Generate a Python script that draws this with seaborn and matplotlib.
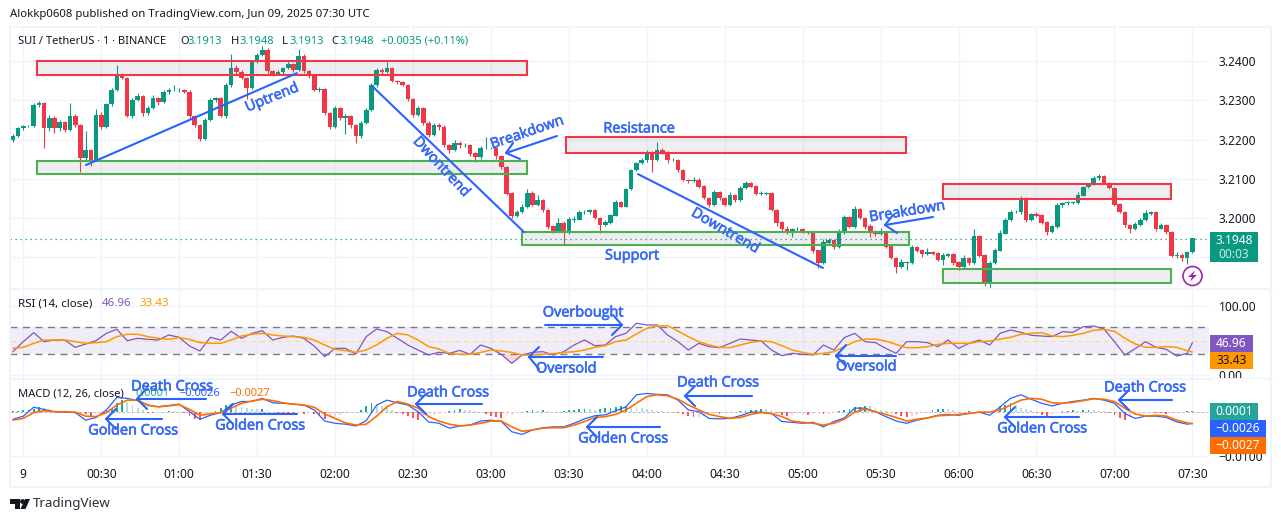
import numpy as np
import seaborn as sns
from matplotlib import patheffects, pyplot as plt
from matplotlib.patches import Circle, Polygon, Rectangle

W, H = 1281, 522
GREEN = '#089981'
RED = '#F23645'
BLUE = '#2962FF'
ORANGE = '#FF6D00'
PURPLE = '#7E57C2'
AMBER = '#FF9800'
INK = '#131722'
GRID = '#F0F3FA'

# 2 minute candles
closes = [
    3.2209, 3.2229, 3.2234, 3.2234, 3.2288, 3.2293, 3.2229, 3.2255, 3.2229, 3.2244,
    3.2224, 3.2260, 3.2237, 3.2153, 3.2173, 3.2148, 3.2262, 3.2232, 3.2290, 3.2326,
    3.2364, 3.2357, 3.2260, 3.2301, 3.2311, 3.2267, 3.2280, 3.2306, 3.2295, 3.2321,
    3.2326, 3.2326, 3.2326, 3.2321, 3.2260, 3.2237, 3.2201, 3.2250, 3.2301, 3.2306,
    3.2260, 3.2339, 3.2382, 3.2372, 3.2357, 3.2331, 3.2397, 3.2415, 3.2428, 3.2374,
    3.2367, 3.2372, 3.2382, 3.2392, 3.2377, 3.2413, 3.2374, 3.2362, 3.2326, 3.2329,
    3.2267, 3.2232, 3.2280, 3.2255, 3.2260, 3.2237, 3.2209, 3.2242, 3.2275, 3.2339,
    3.2377, 3.2372, 3.2382, 3.2349, 3.2346, 3.2339, 3.2303, 3.2262, 3.2280, 3.2242,
    3.2211, 3.2237, 3.2232, 3.2186, 3.2173, 3.2191, 3.2186, 3.2186, 3.2165, 3.2155,
    3.2178, 3.2178, 3.2178, 3.2158, 3.2130, 3.2063, 3.2007, 3.2015, 3.2028, 3.2063,
    3.2033, 3.2046, 3.2020, 3.1979, 3.1969, 3.1987, 3.1964, 3.1997, 3.1997, 3.2015,
    3.2015, 3.2020, 3.2000, 3.1984, 3.1989, 3.2007, 3.2040, 3.2030, 3.2074, 3.2122,
    3.2140, 3.2148, 3.2168, 3.2148, 3.2173, 3.2168, 3.2148, 3.2148, 3.2122, 3.2097,
    3.2094, 3.2097, 3.2081, 3.2051, 3.2033, 3.2066, 3.2051, 3.2035, 3.2058, 3.2046,
    3.2076, 3.2089, 3.2081, 3.2063, 3.2063, 3.2063, 3.2020, 3.1989, 3.1972, 3.1964,
    3.1972, 3.1972, 3.1964, 3.1964, 3.1918, 3.1887, 3.1938, 3.1944, 3.1928, 3.1964,
    3.2002, 3.1979, 3.2023, 3.2000, 3.1979, 3.1964, 3.1959, 3.1964, 3.1928, 3.1898,
    3.1877, 3.1887, 3.1887, 3.1926, 3.1918, 3.1910, 3.1913, 3.1910, 3.1893, 3.1905,
    3.1908, 3.1887, 3.1877, 3.1898, 3.1887, 3.1954, 3.1905, 3.1834, 3.1885, 3.1918,
    3.1961, 3.1995, 3.2015, 3.2015, 3.2051, 3.1995, 3.2010, 3.2007, 3.1989, 3.1966,
    3.1979, 3.2033, 3.2038, 3.2040, 3.2040, 3.2058, 3.2079, 3.2086, 3.2102, 3.2107,
    3.2089, 3.2076, 3.2035, 3.2015, 3.1982, 3.1974, 3.1984, 3.1995, 3.2012, 3.2015,
    3.1974, 3.1982, 3.1964, 3.1905, 3.1905, 3.1898, 3.1913, 3.1948,
]

# wick lengths in 0.0001 steps
upper_wicks = [
    4, 3, 2, 2, 6, 5, 3, 8, 4, 6,
    3, 33, 5, 3, 50, 4, 15, 8, 4, 6,
    25, 6, 3, 5, 8, 3, 5, 8, 3, 6,
    5, 12, 6, 3, 4, 2, 3, 6, 5, 3,
    3, 5, 35, 8, 4, 3, 5, 6, 10, 4,
    4, 5, 3, 8, 4, 18, 5, 3, 3, 4,
    3, 3, 5, 4, 6, 3, 2, 4, 6, 5,
    6, 4, 15, 3, 3, 4, 3, 3, 6, 3,
    4, 6, 5, 4, 3, 8, 5, 6, 3, 4,
    6, 28, 4, 3, 3, 2, 3, 6, 8, 10,
    5, 14, 3, 4, 3, 12, 5, 6, 8, 5,
    6, 4, 3, 3, 5, 4, 5, 3, 3, 4,
    4, 5, 6, 3, 20, 6, 3, 4, 3, 3,
    2, 8, 4, 3, 3, 6, 4, 3, 8, 4,
    5, 6, 3, 3, 5, 4, 3, 2, 3, 8,
    4, 5, 3, 4, 3, 2, 8, 6, 4, 8,
    6, 4, 8, 3, 4, 6, 5, 12, 3, 3,
    3, 8, 4, 6, 3, 4, 12, 4, 3, 5,
    4, 3, 4, 8, 3, 18, 4, 3, 5, 6,
    8, 4, 5, 6, 6, 3, 4, 5, 3, 3,
    4, 6, 4, 3, 3, 8, 3, 4, 6, 6,
    3, 4, 3, 3, 2, 3, 5, 4, 8, 3,
    3, 5, 3, 3, 8, 6, 4, 2,
]
lower_wicks = [
    6, 3, 5, 2, 3, 4, 50, 6, 12, 8,
    5, 3, 4, 35, 6, 15, 3, 6, 3, 4,
    3, 4, 3, 5, 3, 6, 4, 3, 8, 3,
    4, 3, 5, 3, 5, 4, 4, 3, 3, 6,
    3, 5, 4, 6, 3, 28, 3, 2, 3, 5,
    4, 3, 8, 3, 4, 3, 4, 5, 3, 4,
    5, 4, 3, 6, 40, 8, 18, 4, 3, 2,
    4, 5, 3, 3, 4, 3, 4, 5, 3, 6,
    5, 3, 8, 4, 6, 3, 8, 4, 8, 12,
    4, 3, 3, 8, 4, 3, 6, 4, 3, 2,
    3, 3, 5, 6, 8, 5, 32, 4, 6, 3,
    5, 4, 3, 22, 5, 3, 2, 3, 2, 3,
    3, 2, 4, 30, 3, 5, 8, 3, 4, 3,
    5, 3, 4, 3, 5, 3, 6, 4, 3, 5,
    3, 2, 3, 4, 3, 5, 3, 8, 6, 4,
    12, 5, 3, 4, 8, 13, 3, 3, 6, 3,
    4, 3, 5, 3, 6, 12, 4, 3, 5, 3,
    18, 4, 20, 3, 4, 8, 4, 4, 3, 12,
    5, 6, 8, 3, 6, 3, 5, 8, 15, 3,
    3, 2, 3, 3, 4, 5, 3, 4, 3, 8,
    3, 3, 4, 5, 3, 3, 2, 3, 3, 4,
    3, 3, 4, 3, 5, 12, 4, 3, 3, 3,
    6, 3, 5, 4, 6, 8, 14, 2,
]

# macd histogram in 0.0001 steps, same 2 minute grid as the candles
macd_hist = [
    1, 2, 3, 4, 6, 11, 9, 5, 3, 1,
    0, 0, -1, -3, -6, -10, -6, -2, 4, 9,
    20, 27, 22, 15, 8, 3, -2, -4, -3, -1,
    2, 1, -1, -3, -9, -16, -18, -12, -5, 2,
    8, 14, 18, 15, 10, 8, 7, 5, 6, 3,
    -1, -2, -3, -4, -4, -3, -5, -4, -5, -8,
    -16, -12, -9, -7, -5, -3, -1, 4, 12, 20,
    17, 12, 8, 3, -3, -6, -10, -14, -18, -12,
    -11, -8, -5, -2, 2, 4, 5, 4, 3, 1,
    -1, -5, -9, -12, -14, -10, -7, -3, -1, 2,
    3, 2, 4, 2, -1, 0, 2, 3, 4, 5,
    6, 5, 4, 7, 8, 9, 10, 12, 12, 11,
    10, 8, 6, 3, 2, 1, 0, -1, -3, -6,
    -9, -13, -11, -10, -7, -5, -6, -4, -3, -1,
    1, 2, 3, 4, 6, 5, 3, -3, -8, -10,
    -8, -6, -5, -7, -5, -4, -6, -5, -3, 1,
    4, 7, 10, 11, 13, 12, 8, 3, 1, 0,
    -5, -9, -11, -10, -8, -4, -1, 3, 5, 6,
    5, 3, 1, 0, 1, -1, -3, -5, -2, 2,
    10, 16, 20, 15, 9, 6, 3, -2, -7, -9,
    -6, -2, 1, 2, 3, 2, 3, 4, 3, 2,
    1, -3, -8, -14, -18, -12, -7, -3, -2, -1,
    -2, -4, -6, -5, -3, -1, 1, 1,
]

# indicators on a 4 minute grid
rsi_values = [
    33.8, 48.3, 61.4, 48.3, 50.7, 50.7, 40.1, 44.9, 49.8, 60.4,
    66.2, 49.8, 53.1, 51.7, 50.7, 58.0, 54.6, 42.0, 34.8, 54.6,
    50.7, 63.3, 53.1, 60.4, 64.2, 50.7, 54.6, 56.5, 53.1, 42.0,
    26.6, 38.6, 38.6, 30.4, 55.6, 66.7, 62.8, 53.1, 43.5, 36.2,
    29.0, 32.9, 31.4, 35.7, 29.9, 43.5, 38.6, 29.9, 16.9, 29.0,
    32.9, 33.8, 29.0, 33.8, 43.5, 50.7, 42.5, 43.5, 55.6, 60.4,
    74.9, 72.5, 72.5, 58.0, 48.3, 36.2, 45.9, 41.1, 39.6, 45.9,
    52.2, 50.7, 49.3, 36.2, 28.0, 31.4, 29.9, 29.0, 43.5, 36.2,
    54.1, 60.4, 48.3, 46.9, 38.6, 31.4, 48.3, 48.3, 46.9, 41.1,
    50.7, 38.6, 45.9, 50.7, 43.5, 60.4, 65.2, 61.8, 57.5, 56.5,
    55.6, 62.8, 61.8, 70.0, 71.0, 66.7, 48.3, 29.0, 38.2, 48.3,
    40.1, 37.2, 27.5, 31.4, 46.96,
]
rsi_ma = [
    38.7, 40.1, 45.9, 50.7, 50.7, 50.7, 48.3, 45.9, 46.9, 48.3,
    55.6, 59.0, 59.0, 55.6, 53.2, 51.7, 54.1, 51.7, 46.9, 45.9,
    45.9, 50.7, 56.5, 59.0, 60.4, 58.0, 56.5, 55.6, 54.6, 50.7,
    43.5, 37.2, 35.3, 32.9, 36.3, 43.5, 53.2, 60.4, 58.0, 50.7,
    41.1, 37.7, 31.4, 29.9, 29.9, 32.8, 36.2, 34.8, 32.8, 29.0,
    29.0, 29.9, 30.9, 32.8, 33.8, 36.2, 40.1, 42.5, 48.3, 50.7,
    59.4, 67.6, 71.0, 71.5, 63.7, 55.5, 48.3, 43.5, 40.1, 39.6,
    43.5, 47.3, 49.2, 48.3, 42.5, 36.2, 32.8, 29.9, 31.4, 33.8,
    41.0, 48.3, 52.1, 52.1, 49.2, 44.4, 39.6, 39.6, 41.0, 44.4,
    45.9, 45.9, 45.9, 48.3, 49.2, 52.1, 54.6, 58.9, 60.4, 61.4,
    56.5, 55.6, 57.5, 60.4, 64.8, 66.2, 63.3, 53.2, 45.0, 40.1,
    40.1, 41.1, 40.1, 35.3, 33.43,
]
# in 0.0001 steps
macd_line = [
    -17, -10, 10, 5, 0, -1, -2, -19, -13, 4,
    32, 30, 25, 15, 11, 14, 17, 0, -17, -8,
    -2, 15, 23, 23, 30, 20, 19, 17, 15, 4,
    -21, -26, -28, -32, -20, 15, 26, 20, 15, 0,
    -23, -26, -37, -32, -30, -21, -19, -22, -45, -51,
    -41, -36, -34, -34, -26, -16, -9, -7, 2, 11,
    38, 41, 39, 38, 26, 4, 0, -15, -16, -15,
    -9, -1, -1, -4, -22, -24, -26, -24, -34, -22,
    -14, 8, 8, 0, -11, -21, -26, -19, -14, -8,
    -6, -8, -4, -1, -8, 11, 30, 38, 28, 19,
    13, 19, 23, 26, 30, 26, 19, -4, -15, -10,
    -10, -13, -23, -28, -26,
]
macd_signal = [
    -19, -15, -2, 2, 0, 0, -1, -10, -11, -2,
    15, 26, 26, 14, 11, 13, 16, 5, -8, -5,
    -2, 8, 19, 24, 28, 25, 20, 17, 15, 10,
    -5, -15, -25, -30, -28, -10, 11, 23, 17, 8,
    -11, -21, -28, -32, -30, -26, -21, -21, -34, -44,
    -41, -37, -36, -36, -30, -22, -13, -11, -6, 4,
    19, 34, 38, 36, 28, 15, 4, -6, -11, -15,
    -13, -6, -2, -4, -11, -21, -24, -26, -30, -26,
    -17, -1, 6, 0, -6, -13, -21, -17, -14, -9,
    -8, -6, -4, -1, -1, 4, 15, 26, 30, 28,
    20, 19, 21, 25, 29, 28, 23, 8, -5, -10,
    -8, -10, -19, -25, -27,
]

time_labels = ['9', '00:30', '01:00', '01:30', '02:00', '02:30', '03:00', '03:30', '04:00', '04:30',
               '05:00', '05:30', '06:00', '06:30', '07:00', '07:30']
price_ticks = [3.24, 3.23, 3.22, 3.21, 3.20, 3.19]
price_labels = ['3.2400', '3.2300', '3.2200', '3.2100', '3.2000']

# zones: start minute, end minute, top price, bottom price
red_zones = [(5.3, 193.9, 3.2400, 3.2364), (208.9, 339.8, 3.2206, 3.2165), (354.0, 441.8, 3.2086, 3.2048)]
green_zones = [(5.3, 193.9, 3.2145, 3.2112), (192.0, 340.9, 3.1964, 3.1931), (354.0, 441.8, 3.1870, 3.1834)]
trend_minutes = [(24.1, 105.3), (134.6, 192.8), (236.6, 307.8)]
trend_prices = [(3.2135, 3.2369), (3.2334, 3.1964), (3.2112, 3.1873)]


def px_rect(left, top, right, bottom):
    return [left / W, 1 - bottom / H, (right - left) / W, (bottom - top) / H]


def hist_colour(values):
    out = []
    prev = 0
    for v in values:
        if v >= 0:
            out.append('#26A69A' if v >= prev else '#B2DFDB')
        else:
            out.append('#FF5252' if v <= prev else '#FFCDD2')
        prev = v
    return out


sns.set_style('white')
plt.rcParams['font.family'] = ['Noto Sans', 'DejaVu Sans']
plt.rcParams['axes.unicode_minus'] = True

fig = plt.figure(figsize=(W / 100, H / 100), dpi=100)
ax_price = fig.add_axes(px_rect(10, 28, 1209, 288))
ax_rsi = fig.add_axes(px_rect(10, 289, 1209, 378))
ax_macd = fig.add_axes(px_rect(10, 379, 1209, 458))

xlim = (-5.12, 456.4)
tick_minutes = np.arange(0, 451, 30)
for ax in (ax_price, ax_rsi, ax_macd):
    ax.set_xlim(xlim)
    ax.set_xticks(tick_minutes)
    ax.grid(True, color=GRID, lw=1.0)
    ax.set_axisbelow(True)
    for s in ax.spines.values():
        s.set_visible(False)
    ax.yaxis.tick_right()
    ax.tick_params(length=0, labelsize=8.6, labelcolor=INK, pad=7)
    ax.tick_params(axis='x', labelbottom=False)

# candles
minutes = -4 + 2 * np.arange(len(closes))
closes_arr = np.array(closes)
opens = np.r_[3.2200, closes_arr[:-1]]
highs = np.maximum(opens, closes_arr) + np.array(upper_wicks) * 0.0001
lows = np.minimum(opens, closes_arr) - np.array(lower_wicks) * 0.0001
colours = [GREEN if c >= o else RED for o, c in zip(opens, closes_arr)]
ax_price.vlines(minutes, lows, highs, colors=colours, lw=0.8, zorder=2)
ax_price.bar(minutes, np.abs(closes_arr - opens) + 0.00012, bottom=np.minimum(opens, closes_arr) - 0.00006,
             width=1.75, color=colours, lw=0, zorder=2.5)
ax_price.axhline(closes[-1], color=GREEN, lw=0.9, ls=(0, (1, 3)), zorder=1.5)

for zones, edge in ((red_zones, RED), (green_zones, '#4CAF50')):
    for start, end, top, bottom in zones:
        ax_price.add_patch(Rectangle((start, bottom), end - start, top - bottom, facecolor='#787B86', alpha=0.12,
                                     lw=0, zorder=3))
        ax_price.add_patch(Rectangle((start, bottom), end - start, top - bottom, fill=False, edgecolor=edge,
                                     lw=1.5, zorder=3.2))
for mins, prices in zip(trend_minutes, trend_prices):
    sns.lineplot(x=list(mins), y=list(prices), ax=ax_price, color=BLUE, lw=1.5, estimator=None, zorder=4)

ax_price.set_ylim(3.1822, 3.2484)
ax_price.set_yticks(price_ticks)
ax_price.set_yticklabels(price_labels + [''])
ax_price.set_ylabel('')

# rsi
ind_minutes = np.append(np.arange(-4, 449, 4), 450)
rsi_arr = np.array(rsi_values)
ax_rsi.axhspan(30, 70, color=PURPLE, alpha=0.1, lw=0, zorder=1)
ax_rsi.axhline(70, color='#787B86', lw=1.0, ls=(0, (5, 4)), zorder=1.5)
ax_rsi.axhline(30, color='#787B86', lw=1.0, ls=(0, (5, 4)), zorder=1.5)
ax_rsi.axhline(50, color='#F5DF8C', lw=0.8, ls=(0, (5, 3)), zorder=1.5)
ax_rsi.fill_between(ind_minutes, rsi_arr, 30, where=rsi_arr < 30, interpolate=True, color=RED, alpha=0.2, lw=0)
sns.lineplot(x=ind_minutes, y=rsi_values, ax=ax_rsi, color=PURPLE, lw=0.9, estimator=None, zorder=3)
sns.lineplot(x=ind_minutes, y=rsi_ma, ax=ax_rsi, color=AMBER, lw=1.1, estimator=None, zorder=3.5)
ax_rsi.set_ylim(-4.3, 124.6)
ax_rsi.set_yticks([100, 0])
ax_rsi.set_yticklabels(['100.00', '0.00'])
ax_rsi.set_ylabel('')

# macd
hist = np.array(macd_hist) * 0.0001
ax_macd.axhline(0, color='#B8BAC2', lw=0.7, ls=(0, (3, 2)), zorder=1)
ax_macd.bar(minutes, hist, width=0.7, color=hist_colour(macd_hist), lw=0, zorder=2)
sns.lineplot(x=ind_minutes, y=np.array(macd_line) * 0.0001, ax=ax_macd, color=BLUE, lw=0.9, estimator=None, zorder=3)
sns.lineplot(x=ind_minutes, y=np.array(macd_signal) * 0.0001, ax=ax_macd, color=ORANGE, lw=1.2, estimator=None,
             zorder=3.5)
ax_macd.set_ylim(-0.0104, 0.00735)
ax_macd.set_yticks([-0.01])
ax_macd.set_yticklabels(['\u22120.0100'])
ax_macd.set_ylabel('')
ax_macd.tick_params(axis='x', labelbottom=True, pad=7)
ax_macd.set_xticklabels(time_labels)

# overlay in picture pixels for labels and hand drawn annotations
over = fig.add_axes([0, 0, 1, 1], facecolor='none')
over.set_xlim(0, W)
over.set_ylim(H, 0)
over.axis('off')
over.add_patch(Rectangle((10, 27), 1261, 460, fill=False, edgecolor=GRID, lw=1.5))
over.plot([10, 1271], [288.5, 288.5], color=GRID, lw=1.5)
over.plot([10, 1271], [378.5, 378.5], color=GRID, lw=1.5)


def label(x, y, s, color=INK, size=8.3, **kw):
    over.text(x, y, s, color=color, fontsize=size, va='center', **kw)


label(10, 15, 'Alokkp0608 published on TradingView.com, Jun 09, 2025 07:30 UTC', size=8.2)
label(18, 41, 'SUI / TetherUS \u00b7 1 \u00b7 BINANCE', size=8.0)
for x, s, col in [(180, 'O', INK), (188, '3.1913', GREEN), (231, 'H', INK), (240, '3.1948', GREEN),
                  (282, 'L', INK), (290, '3.1913', GREEN), (331, 'C', INK), (340, '3.1948', GREEN),
                  (381, '+0.0035 (+0.11%)', GREEN)]:
    label(x, 41, s, color=col, size=8.0)
label(18, 304, 'RSI (14, close)')
label(102, 304, '46.96', color=PURPLE)
label(139, 304, '33.43', color=AMBER)
label(18, 394, 'MACD (12, 26, close)', size=8.0)
label(136, 394, '0.0001', color='#26A69A', size=8.0)
label(179, 394, '\u22120.0026', color=BLUE, size=8.0)
label(229, 394, '\u22120.0027', color=ORANGE, size=8.0)

# covers the lower half of the 0.00 label like the pane edge does
over.add_patch(Rectangle((1212, 379), 56, 5, facecolor='white', lw=0, zorder=4))

# right hand value boxes
for x0, x1, y0, y1, col, txt, tcol in [
    (1210, 1253, 335, 352, PURPLE, '46.96', 'white'),
    (1210, 1253, 352, 369, AMBER, '33.43', INK),
    (1210, 1258, 403, 420, '#26A69A', '0.0001', 'white'),
    (1210, 1266, 420, 437, BLUE, '\u22120.0026', 'white'),
    (1210, 1266, 437, 454, ORANGE, '\u22120.0027', 'white'),
]:
    over.add_patch(Rectangle((x0, y0), x1 - x0, y1 - y0, facecolor=col, lw=0, zorder=5))
    over.text((x0 + x1) / 2, (y0 + y1) / 2, txt, color=tcol, fontsize=8.6, ha='center', va='center', zorder=6)
over.add_patch(Rectangle((1210, 232), 48, 30, facecolor=GREEN, lw=0, zorder=5))
over.text(1234, 240, '3.1948', color='white', fontsize=8.6, ha='center', va='center', zorder=6)
over.text(1234, 254, '00:03', color='#CDEBE5', fontsize=8.6, ha='center', va='center', zorder=6)

# lightning badge
over.add_patch(Circle((1192.5, 276), 9.5, fill=False, edgecolor='#9C27B0', lw=1.2))
over.add_patch(Polygon([(1195, 270.5), (1188, 277), (1192, 277), (1190, 281.5), (1197, 275), (1193, 275)],
                       facecolor='#9C27B0', lw=0))

# logo
over.add_patch(Polygon([(10, 499), (20, 499), (20, 509), (15, 509), (15, 504), (10, 504)], facecolor=INK, lw=0))
over.add_patch(Circle((22.5, 501.5), 2.4, facecolor=INK, lw=0))
over.add_patch(Polygon([(25, 499), (30, 499), (25.5, 509), (20.5, 509)], facecolor=INK, lw=0))
label(33, 504, 'TradingView', size=9.6, color='#2A2E39')

# arrows: tail, tip, two barb ends
arrows = [
    ((557, 136), (506, 153), (520, 159), (513, 143)),
    ((933, 217), (885, 225), (897, 233), (893, 215)),
    ((545, 325), (622, 325), (613, 315), (612, 335)),
    ((603, 357), (529, 357), (539, 347), (539, 369)),
    ((896, 356), (836, 356), (846, 345), (846, 366)),
    ((206, 399), (137, 399), (147, 388), (147, 409)),
    ((162, 419), (106, 419), (116, 409), (116, 429)),
    ((297, 414), (223, 414), (233, 404), (233, 424)),
    ((482, 404), (416, 404), (426, 394), (426, 414)),
    ((660, 427), (587, 427), (597, 417), (597, 437)),
    ((752, 396), (685, 396), (695, 386), (695, 406)),
    ((1079, 417), (1005, 417), (1015, 407), (1015, 427)),
    ((1172, 400), (1119, 400), (1129, 390), (1129, 410)),
]
for tail, tip, b1, b2 in arrows:
    over.plot([tail[0], tip[0]], [tail[1], tip[1]], color=BLUE, lw=1.5, solid_capstyle='round')
    over.plot([b1[0], tip[0], b2[0]], [b1[1], tip[1], b2[1]], color=BLUE, lw=1.5, solid_capstyle='round')

notes = [
    (272, 98, 'Uptrend', 22), (441, 167, 'Dwontrend', -47), (725, 231, 'Downtrend', -30),
    (527, 133, 'Breakdown', 19), (907, 212, 'Breakdown', 9), (639, 129, 'Resistance', 0),
    (632, 256, 'Support', 0), (583, 313, 'Overbought', 0), (566, 369, 'Oversold', 0),
    (866, 367, 'Oversold', 0), (172, 387, 'Death Cross', 0), (448, 393, 'Death Cross', 0),
    (718, 383, 'Death Cross', 0), (1145, 388, 'Death Cross', 0), (133, 431, 'Golden Cross', 0),
    (260, 426, 'Golden Cross', 0), (623, 439, 'Golden Cross', 0), (1042, 429, 'Golden Cross', 0),
]
stroke = [patheffects.withStroke(linewidth=0.5, foreground='#3A6BF5')]
for x, y, s, rot in notes:
    over.text(x, y, s, color='#3A6BF5', fontsize=10.4, family='Open Sans', ha='center', va='center',
              rotation=rot, rotation_mode='anchor', zorder=7, path_effects=stroke)

fig.savefig('out.png', dpi=100, facecolor='white')
print(len(closes), len(upper_wicks), len(lower_wicks), len(macd_hist), len(rsi_values), len(rsi_ma), len(macd_line), len(macd_signal))
